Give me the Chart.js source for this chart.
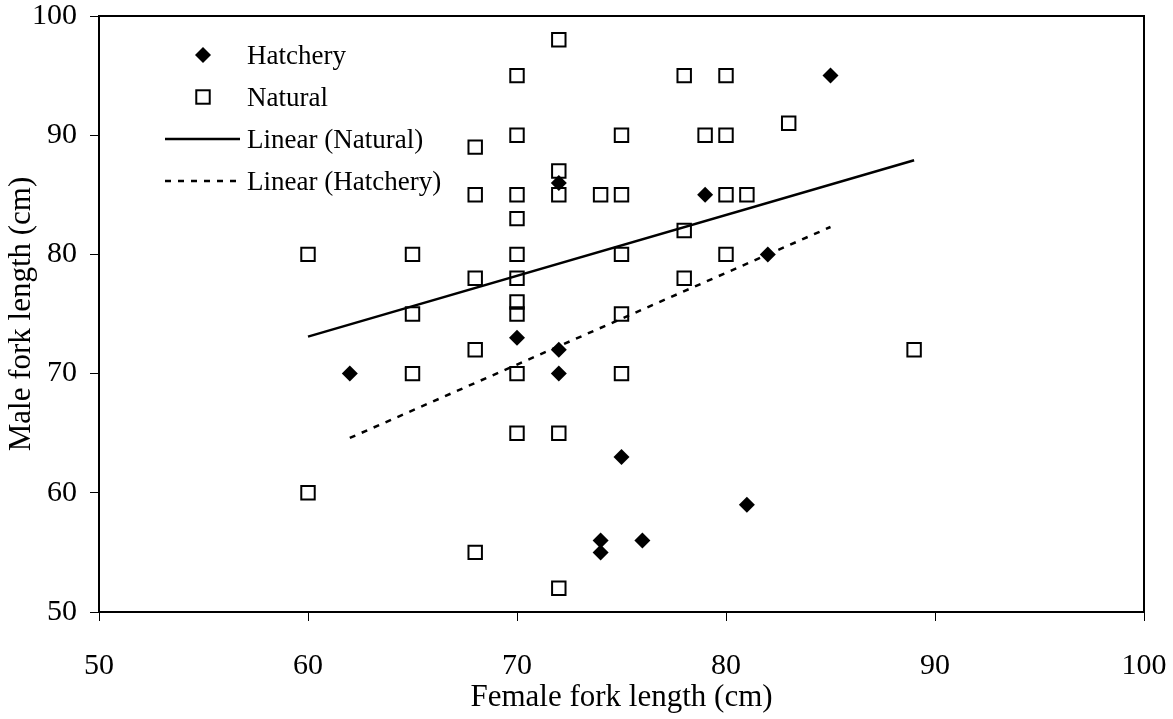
<!DOCTYPE html>
<html>
<head>
    <meta charset="utf-8" />
    <title>Male vs female fork length</title>
    <style>
        body {
            margin: 0;
            background: #fff;
        }
    </style>
</head>
<body>
    <canvas id="chartCanvas" width="1173" height="719"></canvas>

    <script src="https://cdn.jsdelivr.net/npm/chart.js"></script>
    <script>
        // hatchery fish (diamonds)
        var hatcheryFemale = [62, 70, 72, 72, 72, 74, 74, 75, 76, 79, 81, 82, 85];
        var hatcheryMale = [70, 73, 86, 72, 70, 56, 55, 63, 56, 85, 59, 80, 95];

        // natural fish (open squares)
        var naturalFemale = [60, 60, 65, 65, 65, 68, 68, 68, 68, 68,
            70, 70, 70, 70, 70, 70, 70, 70, 70, 70,
            72, 72, 72, 72, 72, 74, 75, 75, 75, 75, 75,
            78, 78, 78, 79, 80, 80, 80, 80, 81, 83, 89];
        var naturalMale = [80, 60, 80, 75, 70, 89, 85, 78, 72, 55,
            95, 90, 85, 83, 80, 78, 76, 75, 70, 65,
            98, 87, 85, 65, 52, 85, 90, 85, 80, 75, 70,
            95, 82, 78, 90, 95, 90, 85, 80, 85, 91, 72];

        // trendline end points
        var naturalTrendX = [60, 89];
        var naturalTrendY = [73.1, 87.9];
        var hatcheryTrendX = [62, 85];
        var hatcheryTrendY = [64.6, 82.3];

        var axisTicks = [50, 60, 70, 80, 90, 100];
        var legendLabels = ['Hatchery', 'Natural', 'Linear (Natural)', 'Linear (Hatchery)'];

        var serif = '"Liberation Serif", "Times New Roman", serif';

        function toPoints(xs, ys) {
            return xs.map(function (x, i) { return { x: x, y: ys[i] }; });
        }

        // full box around the plot
        var framePlugin = {
            id: 'frame',
            afterDraw: function (chart) {
                var a = chart.chartArea;
                var ctx = chart.ctx;
                ctx.save();
                ctx.strokeStyle = '#000';
                ctx.lineWidth = 2;
                ctx.strokeRect(a.left, a.top, a.right - a.left, a.bottom - a.top);
                ctx.restore();
            }
        };

        // legend sits inside the plot, top left
        var insideLegend = {
            id: 'insideLegend',
            afterDraw: function (chart) {
                var ctx = chart.ctx;
                var sets = chart.data.datasets;
                ctx.save();
                ctx.font = '27px ' + serif;
                ctx.textBaseline = 'middle';
                ctx.fillStyle = '#000';
                for (var i = 0; i < legendLabels.length; i++) {
                    var ds = sets[i];
                    var y = 55 + i * 42;
                    var cx = 203;
                    ctx.strokeStyle = '#000';
                    if (ds.pointStyle === 'rectRot') {
                        var r = ds.pointRadius;
                        ctx.beginPath();
                        ctx.moveTo(cx, y - r);
                        ctx.lineTo(cx + r, y);
                        ctx.lineTo(cx, y + r);
                        ctx.lineTo(cx - r, y);
                        ctx.closePath();
                        ctx.fillStyle = '#000';
                        ctx.fill();
                    } else if (ds.pointStyle === 'rect') {
                        var s = Math.SQRT1_2 * ds.pointRadius;
                        ctx.lineWidth = ds.pointBorderWidth;
                        ctx.strokeRect(cx - s, y - s, 2 * s, 2 * s);
                    } else {
                        ctx.lineWidth = ds.borderWidth;
                        ctx.setLineDash(ds.borderDash || []);
                        ctx.beginPath();
                        ctx.moveTo(165, y);
                        ctx.lineTo(240, y);
                        ctx.stroke();
                        ctx.setLineDash([]);
                    }
                    ctx.fillStyle = '#000';
                    ctx.fillText(legendLabels[i], 247, y + 2);
                }
                ctx.restore();
            }
        };

        var ctx_1 = document.getElementById('chartCanvas').getContext('2d');

        var chart1 = new Chart(ctx_1, {
            type: 'scatter',
            data: {
                datasets: [{
                    label: legendLabels[0],
                    data: toPoints(hatcheryFemale, hatcheryMale),
                    pointStyle: 'rectRot',
                    pointRadius: 8,
                    pointBorderWidth: 0,
                    backgroundColor: '#000',
                    borderColor: '#000'
                }, {
                    label: legendLabels[1],
                    data: toPoints(naturalFemale, naturalMale),
                    pointStyle: 'rect',
                    pointRadius: 9.5,
                    pointBorderWidth: 2,
                    backgroundColor: 'rgba(0,0,0,0)',
                    borderColor: '#000'
                }, {
                    label: legendLabels[2],
                    data: toPoints(naturalTrendX, naturalTrendY),
                    showLine: true,
                    pointRadius: 0,
                    borderWidth: 2.5,
                    borderColor: '#000'
                }, {
                    label: legendLabels[3],
                    data: toPoints(hatcheryTrendX, hatcheryTrendY),
                    showLine: true,
                    pointRadius: 0,
                    borderWidth: 2.5,
                    borderDash: [6, 7],
                    borderColor: '#000'
                }]
            },
            options: {
                responsive: false,
                animation: false,
                devicePixelRatio: 1,
                layout: {
                    padding: { top: 16, right: 29, left: 0, bottom: 0 }
                },
                plugins: {
                    legend: { display: false },
                    tooltip: { enabled: false }
                },
                scales: {
                    x: {
                        type: 'linear',
                        min: 50,
                        max: 100,
                        afterBuildTicks: function (scale) {
                            scale.ticks = axisTicks.map(function (v) { return { value: v }; });
                        },
                        afterFit: function (scale) {
                            scale.height = 107;
                            scale.paddingLeft = 0;
                            scale.paddingRight = 0;
                        },
                        border: { display: false },
                        grid: {
                            drawOnChartArea: false,
                            drawTicks: true,
                            tickLength: 9,
                            tickWidth: 1,
                            tickColor: '#000'
                        },
                        ticks: {
                            color: '#000',
                            padding: 27,
                            maxRotation: 0,
                            font: { family: serif, size: 30 }
                        },
                        title: {
                            display: true,
                            text: 'Female fork length (cm)',
                            color: '#000',
                            padding: { top: 0, bottom: 3 },
                            font: { family: serif, size: 31 }
                        }
                    },
                    y: {
                        type: 'linear',
                        min: 50,
                        max: 100,
                        afterBuildTicks: function (scale) {
                            scale.ticks = axisTicks.map(function (v) { return { value: v }; });
                        },
                        afterFit: function (scale) {
                            scale.width = 99;
                            scale.paddingTop = 0;
                            scale.paddingBottom = 0;
                        },
                        border: { display: false },
                        grid: {
                            drawOnChartArea: false,
                            drawTicks: true,
                            tickLength: 9,
                            tickWidth: 1,
                            tickColor: '#000'
                        },
                        ticks: {
                            color: '#000',
                            padding: 13,
                            font: { family: serif, size: 30 }
                        },
                        title: {
                            display: true,
                            text: 'Male fork length (cm)',
                            color: '#000',
                            padding: { top: 3, bottom: 0 },
                            font: { family: serif, size: 31 }
                        }
                    }
                }
            },
            plugins: [framePlugin, insideLegend]
        });
    </script>
</body>
</html>
